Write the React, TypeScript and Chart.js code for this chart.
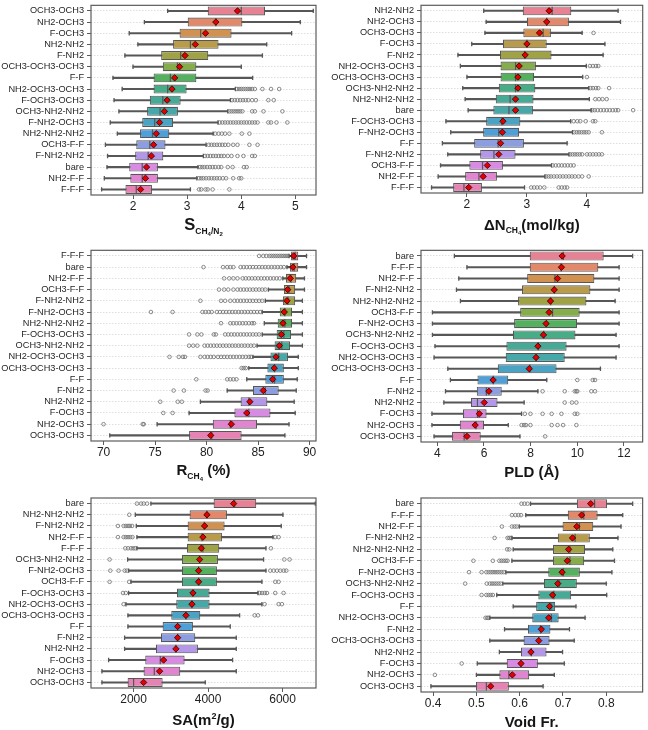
import React, { useEffect, useRef } from 'react';
import { Chart, registerables } from 'chart.js';

Chart.register(...registerables);

const FONT = "'Liberation Sans', Arial, Helvetica, sans-serif";
Chart.defaults.font.family = FONT;

// ---------------- Panel 1: S CH4/N2 ----------------
const sCats = ['OCH3-OCH3', 'NH2-OCH3', 'F-OCH3', 'NH2-NH2', 'F-NH2', 'OCH3-OCH3-OCH3', 'F-F', 'NH2-OCH3-OCH3', 'F-OCH3-OCH3', 'OCH3-NH2-NH2', 'F-NH2-OCH3', 'NH2-NH2-NH2', 'OCH3-F-F', 'F-NH2-NH2', 'bare', 'NH2-F-F', 'F-F-F'];
const sLo = [2.64, 2.21, 1.93, 2.09, 1.85, 2.0, 1.63, 1.8, 1.65, 1.74, 1.58, 1.71, 1.49, 1.53, 1.52, 1.47, 1.42];
const sQ1 = [3.38, 3.01, 2.86, 2.74, 2.52, 2.55, 2.38, 2.38, 2.31, 2.26, 2.17, 2.13, 2.06, 2.04, 1.93, 1.95, 1.86];
const sMed = [4.0, 3.53, 3.25, 3.06, 2.88, 2.82, 2.69, 2.64, 2.55, 2.5, 2.4, 2.36, 2.31, 2.28, 2.17, 2.17, 2.06];
const sQ3 = [4.44, 4.02, 3.82, 3.58, 3.39, 3.17, 3.17, 2.99, 2.88, 2.83, 2.74, 2.67, 2.6, 2.56, 2.46, 2.46, 2.35];
const sHi = [5.33, 5.09, 4.93, 4.47, 4.39, 4.0, 4.21, 3.89, 3.8, 3.75, 3.57, 3.48, 3.35, 3.3, 3.2, 3.18, 3.06];
const sMean = [3.93, 3.53, 3.34, 3.15, 2.96, 2.86, 2.77, 2.72, 2.63, 2.58, 2.49, 2.43, 2.38, 2.34, 2.25, 2.23, 2.14];
const sOut = [
  [], [], [], [], [], [], [],
  [3.92, 3.96, 4.0, 4.04, 4.08, 4.12, 4.16, 4.2, 4.25, 4.39, 4.55, 4.7],
  [3.83, 3.88, 3.93, 3.98, 4.03, 4.08, 4.13, 4.2, 4.27, 4.5, 4.6],
  [3.78, 3.82, 3.86, 3.9, 3.94, 3.98, 4.02, 4.2, 4.25, 4.41, 4.76],
  [3.6, 3.65, 3.7, 3.75, 3.8, 3.85, 3.9, 3.95, 4.0, 4.05, 4.1, 4.15, 4.2, 4.25, 4.3, 4.5, 4.55, 4.65, 4.85],
  [3.52, 3.58, 3.64, 3.7, 3.78, 4.01, 4.15],
  [3.4, 3.45, 3.5, 3.55, 3.6, 3.65, 3.7, 3.76, 3.85, 3.93, 4.15, 4.3],
  [3.33, 3.38, 3.43, 3.48, 3.53, 3.58, 3.63, 3.68, 3.75, 3.82, 3.93, 4.04, 4.2, 4.25],
  [3.24, 3.28, 3.32, 3.37, 3.42, 3.47, 3.52, 3.58, 3.63, 3.75, 3.84, 4.05, 4.1],
  [3.22, 3.26, 3.3, 3.35, 3.4, 3.45, 3.5, 3.55, 3.6, 3.66, 3.72, 3.85, 3.96, 4.0],
  [3.22, 3.26, 3.34, 3.38, 3.47, 3.78],
];
const sTicks = [2, 3, 4, 5];
const sRange = [1.224, 5.38];

// ---------------- Panel 2: ΔN CH4 ----------------
const nCats = ['NH2-NH2', 'NH2-OCH3', 'OCH3-OCH3', 'F-OCH3', 'F-NH2', 'NH2-OCH3-OCH3', 'OCH3-OCH3-OCH3', 'OCH3-NH2-NH2', 'NH2-NH2-NH2', 'bare', 'F-OCH3-OCH3', 'F-NH2-OCH3', 'F-F', 'F-NH2-NH2', 'OCH3-F-F', 'NH2-F-F', 'F-F-F'];
const nLo = [2.28, 2.32, 2.3, 2.08, 1.85, 1.89, 2.0, 1.93, 1.97, 2.02, 1.65, 1.73, 1.59, 1.68, 1.56, 1.52, 1.41];
const nQ1 = [2.93, 3.0, 2.94, 2.6, 2.55, 2.56, 2.56, 2.53, 2.48, 2.44, 2.32, 2.27, 2.12, 2.22, 2.04, 1.97, 1.77];
const nMed = [3.42, 3.33, 3.27, 3.0, 2.96, 2.81, 2.81, 2.81, 2.72, 2.7, 2.58, 2.53, 2.52, 2.45, 2.26, 2.2, 1.95];
const nQ3 = [3.74, 3.7, 3.4, 3.33, 3.41, 3.15, 3.12, 3.14, 3.11, 3.1, 2.89, 2.87, 2.95, 2.81, 2.6, 2.5, 2.25];
const nHi = [4.52, 4.56, 3.92, 4.3, 4.27, 3.99, 3.93, 4.03, 4.04, 4.07, 3.73, 3.76, 3.67, 3.7, 3.41, 3.3, 2.96];
const nMean = [3.37, 3.33, 3.21, 3.0, 2.97, 2.87, 2.85, 2.85, 2.81, 2.81, 2.6, 2.59, 2.56, 2.53, 2.34, 2.27, 2.03];
const nOut = [
  [], [], [4.11], [], [],
  [4.05, 4.1, 4.15, 4.19],
  [4.0],
  [4.06, 4.1, 4.15, 4.19, 4.37],
  [4.14, 4.2, 4.26, 4.33],
  [4.09, 4.13, 4.18, 4.23, 4.28, 4.33, 4.38, 4.43, 4.48, 4.52, 4.77],
  [3.78, 3.84, 3.89, 3.98, 4.1, 4.14],
  [3.79, 3.83, 3.87, 3.91, 3.95, 3.99, 4.03, 4.25],
  [],
  [3.72, 3.76, 3.8, 3.84, 3.88, 3.92, 4.0, 4.05, 4.1, 4.15, 4.2, 4.25],
  [3.43, 3.48, 3.53, 3.58, 3.63, 3.68, 3.73, 3.78],
  [3.32, 3.36, 3.4, 3.45, 3.5, 3.55, 3.6, 3.65, 3.7, 3.75, 3.8, 3.86, 3.92, 4.03],
  [3.07, 3.12, 3.17, 3.22, 3.29, 3.53, 3.58, 3.63, 3.67],
];
const nTicks = [2, 3, 4];
const nRange = [1.234, 4.93];

// ---------------- Panel 3: R CH4 (%) ----------------
const rCats = ['F-F-F', 'bare', 'NH2-F-F', 'OCH3-F-F', 'F-NH2-NH2', 'F-NH2-OCH3', 'NH2-NH2-NH2', 'F-OCH3-OCH3', 'OCH3-NH2-NH2', 'NH2-OCH3-OCH3', 'OCH3-OCH3-OCH3', 'F-F', 'F-NH2', 'NH2-NH2', 'F-OCH3', 'NH2-OCH3', 'OCH3-OCH3'];
const rLo = [88.0, 87.8, 87.4, 86.0, 85.7, 85.4, 85.6, 85.4, 84.9, 84.5, 84.1, 83.9, 82.0, 79.4, 78.3, 75.2, 70.6];
const rQ1 = [88.2, 88.1, 87.7, 87.5, 87.4, 87.1, 86.9, 86.8, 86.6, 86.2, 85.9, 85.7, 84.5, 83.3, 82.7, 80.6, 78.3];
const rMed = [88.6, 88.5, 88.2, 88.0, 87.9, 87.6, 87.6, 87.5, 87.3, 87.0, 86.6, 86.6, 85.7, 84.1, 84.1, 82.3, 80.5];
const rQ3 = [88.9, 88.9, 88.7, 88.6, 88.6, 88.3, 88.3, 88.2, 88.1, 87.9, 87.5, 87.5, 87.0, 85.9, 86.2, 84.9, 83.4];
const rHi = [89.7, 89.7, 89.5, 89.5, 89.3, 89.3, 89.3, 89.3, 89.3, 88.9, 88.9, 88.8, 88.7, 88.5, 88.6, 88.0, 87.6];
const rMean = [88.45, 88.38, 88.12, 87.87, 87.8, 87.54, 87.41, 87.25, 87.06, 86.73, 86.57, 86.41, 85.5, 84.2, 83.9, 82.4, 80.4];
const rOut = [
  [85.1, 85.5, 85.8, 86.1, 86.3, 86.5, 86.7, 86.9, 87.1, 87.3, 87.5, 87.7, 87.9],
  [79.7, 81.6, 82.0, 82.3, 82.6, 83.3, 83.6, 83.9, 84.2, 84.5, 84.8, 85.1, 85.4, 85.7, 86.0, 86.3, 86.6, 86.9, 87.2, 87.5],
  [81.7, 82.2, 82.6, 83.0, 83.5, 83.8, 84.1, 84.4, 84.7, 85.0, 85.3, 85.6, 85.9, 86.2, 86.5, 86.8, 87.1],
  [81.2, 81.7, 82.1, 82.6, 83.0, 83.3, 83.6, 83.9, 84.2, 84.5, 84.8, 85.1, 85.4, 85.7],
  [79.4, 81.4, 81.8, 82.3, 82.7, 83.0, 83.3, 83.6, 83.9, 84.2, 84.5, 84.8, 85.1, 85.4],
  [74.6, 76.7, 79.6, 79.9, 80.2, 80.5, 81.0, 81.3, 81.6, 81.9, 82.2, 82.5, 82.8, 83.1, 83.4, 83.7, 84.0, 84.3, 84.6, 84.9, 85.2],
  [81.4, 82.3, 82.6, 82.9, 83.2, 83.5, 83.8, 84.1, 84.4, 84.6],
  [78.3, 79.1, 79.5, 80.7, 80.9, 81.8, 82.1, 82.4, 82.7, 83.0, 83.3, 83.6, 83.9, 84.2, 84.5, 84.8, 85.1],
  [78.3, 78.7, 79.1, 79.8, 80.1, 80.4, 80.7, 81.0, 81.3, 81.6, 81.9, 82.2, 82.5, 82.8, 83.1, 83.4, 83.7, 84.0, 84.3, 84.6],
  [76.4, 77.3, 77.7, 77.9, 79.4, 79.8, 80.1, 80.4, 80.7, 81.1, 81.4, 81.7, 82.0, 82.3, 82.6, 82.9, 83.2, 83.5, 83.8, 84.1, 84.3],
  [83.4, 83.6, 83.8],
  [79.0, 82.0, 82.3, 82.6, 82.9],
  [76.8, 77.8, 79.9, 80.1],
  [75.5, 77.2, 77.6],
  [75.8, 76.7],
  [70.0, 73.8, 73.9],
  [],
];
const rTicks = [70, 75, 80, 85, 90];
const rRange = [68.78, 90.62];

// ---------------- Panel 4: PLD (Å) ----------------
const pCats = ['bare', 'F-F-F', 'NH2-F-F', 'F-NH2-NH2', 'NH2-NH2-NH2', 'OCH3-F-F', 'F-NH2-OCH3', 'OCH3-NH2-NH2', 'F-OCH3-OCH3', 'NH2-OCH3-OCH3', 'OCH3-OCH3-OCH3', 'F-F', 'F-NH2', 'NH2-NH2', 'F-OCH3', 'NH2-OCH3', 'OCH3-OCH3'];
const pLo = [4.73, 5.27, 4.92, 4.82, 4.99, 3.79, 3.79, 3.79, 3.9, 3.86, 4.45, 4.56, 4.35, 4.28, 3.77, 3.77, 3.86];
const pQ1 = [7.96, 7.96, 7.85, 7.63, 7.46, 7.55, 7.29, 7.24, 6.96, 6.93, 6.59, 5.72, 5.69, 5.44, 5.1, 4.96, 4.63];
const pMed = [9.4, 9.3, 9.04, 9.02, 8.86, 8.94, 8.68, 8.56, 8.33, 8.24, 7.97, 6.4, 6.1, 5.72, 5.72, 5.66, 5.15];
const pQ3 = [11.13, 10.9, 10.73, 10.56, 10.39, 10.1, 9.99, 9.92, 9.54, 9.46, 9.11, 7.04, 6.76, 6.58, 6.11, 6.0, 5.86];
const pHi = [12.37, 11.79, 11.79, 11.79, 11.62, 11.79, 11.79, 11.66, 11.79, 11.66, 10.99, 8.69, 8.31, 7.72, 7.61, 7.04, 7.54];
const pMean = [9.35, 9.32, 9.15, 9.01, 8.85, 8.79, 8.66, 8.55, 8.31, 8.23, 7.94, 6.39, 6.21, 6.01, 5.8, 5.62, 5.27];
const pOut = [
  [], [], [], [], [], [], [], [], [], [], [],
  [10.0, 10.66, 10.76],
  [8.51, 9.46, 9.89, 9.96, 10.0, 10.6, 10.76],
  [9.46, 9.77, 9.96],
  [7.75, 7.99, 8.51, 8.9, 9.32, 9.89, 10.0],
  [7.61, 7.72, 7.8, 7.99, 8.9, 9.15, 9.39, 9.96],
  [8.62],
];
const pTicks = [4, 6, 8, 10, 12];
const pRange = [3.3, 12.8];

// ---------------- Panel 5: SA (m2/g) ----------------
const aCats = ['bare', 'NH2-NH2-NH2', 'F-NH2-NH2', 'NH2-F-F', 'F-F-F', 'OCH3-NH2-NH2', 'F-NH2-OCH3', 'OCH3-F-F', 'F-OCH3-OCH3', 'NH2-OCH3-OCH3', 'OCH3-OCH3-OCH3', 'F-F', 'F-NH2', 'NH2-NH2', 'F-OCH3', 'NH2-OCH3', 'OCH3-OCH3'];
const aLo = [2465, 2045, 2072, 2090, 2090, 1839, 1866, 1930, 1866, 1794, 1848, 1848, 1758, 1758, 1329, 1150, 1150];
const aQ1 = [4148, 3503, 3450, 3450, 3432, 3298, 3298, 3298, 3163, 3145, 3011, 2779, 2734, 2600, 2313, 2268, 1839];
const aMed = [4712, 3969, 3897, 3835, 3861, 3772, 3745, 3745, 3593, 3566, 3405, 3181, 3181, 3136, 2716, 2555, 2000];
const aQ3 = [5293, 4506, 4443, 4372, 4300, 4264, 4237, 4237, 4040, 4040, 3790, 3593, 3656, 3727, 3369, 3253, 2779];
const aHi = [6877, 6009, 5964, 5741, 5553, 5490, 5553, 5445, 5338, 5445, 4846, 4595, 4756, 4756, 4658, 4756, 3924];
const aMean = [4685, 3969, 3906, 3861, 3817, 3772, 3745, 3745, 3593, 3566, 3405, 3181, 3181, 3136, 2805, 2698, 2268];
const aOut = [
  [2090, 2200, 2270, 2360],
  [1884],
  [1579, 1732, 1790, 1850, 1900, 1960],
  [1579, 1732, 1790, 1850, 1910, 1970, 5803, 5893],
  [1776, 1850, 1930, 1990, 2040, 5687],
  [1356, 6045, 6188],
  [1374, 1597, 1760, 1820, 5669, 5760, 5850, 5940, 6030, 6100],
  [1356, 1880, 5803, 5893],
  [1714, 1790, 5383, 5450, 5520, 5580, 5803, 6027],
  [1732, 5517, 5893, 5982],
  [5249, 5338],
  [], [], [], [], [], [],
];
const aTicks = [2000, 4000, 6000];
const aRange = [856, 6897];

// ---------------- Panel 6: Void Fr. ----------------
const vCats = ['bare', 'F-F-F', 'NH2-F-F', 'F-NH2-NH2', 'NH2-NH2-NH2', 'OCH3-F-F', 'F-NH2-OCH3', 'OCH3-NH2-NH2', 'F-OCH3-OCH3', 'F-F', 'NH2-OCH3-OCH3', 'F-NH2', 'OCH3-OCH3-OCH3', 'NH2-NH2', 'F-OCH3', 'NH2-OCH3', 'OCH3-OCH3'];
const vLo = [0.625, 0.614, 0.599, 0.582, 0.585, 0.582, 0.568, 0.561, 0.547, 0.585, 0.531, 0.565, 0.531, 0.553, 0.502, 0.5, 0.395];
const vQ1 = [0.732, 0.711, 0.699, 0.688, 0.677, 0.677, 0.666, 0.656, 0.643, 0.638, 0.629, 0.619, 0.609, 0.603, 0.57, 0.553, 0.499];
const vMed = [0.773, 0.748, 0.738, 0.728, 0.716, 0.716, 0.701, 0.691, 0.679, 0.672, 0.673, 0.648, 0.644, 0.627, 0.603, 0.575, 0.523];
const vQ3 = [0.802, 0.78, 0.77, 0.762, 0.751, 0.749, 0.739, 0.732, 0.719, 0.682, 0.69, 0.671, 0.669, 0.662, 0.642, 0.622, 0.575];
const vHi = [0.861, 0.838, 0.834, 0.827, 0.815, 0.819, 0.813, 0.8, 0.801, 0.73, 0.751, 0.715, 0.726, 0.699, 0.703, 0.68, 0.654];
const vMean = [0.764, 0.743, 0.732, 0.722, 0.713, 0.71, 0.698, 0.688, 0.676, 0.669, 0.667, 0.65, 0.644, 0.626, 0.603, 0.583, 0.533];
const vOut = [
  [0.604, 0.611, 0.618],
  [0.582, 0.59, 0.597, 0.603],
  [0.559, 0.582, 0.588, 0.593],
  [0.542, 0.572, 0.576, 0.58],
  [0.571, 0.576],
  [0.493, 0.538, 0.553, 0.558, 0.563, 0.568, 0.572],
  [0.483, 0.512, 0.523, 0.528, 0.533, 0.538, 0.543, 0.548, 0.553, 0.558, 0.563],
  [0.474, 0.524, 0.531, 0.536, 0.541, 0.546, 0.551, 0.556],
  [0.512, 0.523, 0.528, 0.533, 0.538],
  [],
  [0.521, 0.525, 0.528],
  [], [], [],
  [0.466],
  [0.404],
  [],
];
const vTicks = [0.4, 0.5, 0.6, 0.7, 0.8];
const vRange = [0.372, 0.884];

// ---------------- styles ----------------
const PALETTE = ['#e68294', '#e1896a', '#d19150', '#b99c4b', '#9fa245', '#86ad4c', '#55b060', '#48ad86', '#47aa97', '#46a8a8', '#4aa3c3', '#4f9fd8', '#8c9ee0', '#b497e8', '#d88be3', '#e285d0', '#e584b4'];
const LINE = '#575757';

interface Seg { t: string; size: number; dy?: number }
interface PanelDef {
  cats: string[]; lo: number[]; q1: number[]; med: number[]; q3: number[]; hi: number[]; mean: number[];
  out: number[][]; ticks: number[]; range: number[];
  box: { l: number; t: number; w: number; h: number };
  plot: { l: number; t: number; r: number; b: number };
  title: Seg[]; base: number;
}

const PANELS: PanelDef[] = [
  {
    cats: sCats, lo: sLo, q1: sQ1, med: sMed, q3: sQ3, hi: sHi, mean: sMean, out: sOut, ticks: sTicks, range: sRange,
    box: { l: 0, t: 0, w: 324, h: 245 }, plot: { l: 91, t: 2, r: 316, b: 195 },
    title: [{ t: 'S', size: 16.5 }, { t: 'CH', size: 8.5, dy: 3.5 }, { t: '4', size: 6, dy: 5.5 }, { t: '/N', size: 8.5, dy: 3.5 }, { t: '2', size: 6, dy: 5.5 }],
    base: 230,
  },
  {
    cats: nCats, lo: nLo, q1: nQ1, med: nMed, q3: nQ3, hi: nHi, mean: nMean, out: nOut, ticks: nTicks, range: nRange,
    box: { l: 324, t: 0, w: 324, h: 245 }, plot: { l: 421, t: 2, r: 646, b: 193 },
    title: [{ t: 'ΔN', size: 15 }, { t: 'CH', size: 8.5, dy: 3.5 }, { t: '4', size: 6, dy: 5.5 }, { t: '(mol/kg)', size: 15 }],
    base: 229.5,
  },
  {
    cats: rCats, lo: rLo, q1: rQ1, med: rMed, q3: rQ3, hi: rHi, mean: rMean, out: rOut, ticks: rTicks, range: rRange,
    box: { l: 0, t: 245, w: 324, h: 240 }, plot: { l: 91, t: 249, r: 316, b: 441 },
    title: [{ t: 'R', size: 15 }, { t: 'CH', size: 8.5, dy: 3.5 }, { t: '4', size: 6, dy: 5.5 }, { t: ' (%)', size: 15 }],
    base: 475,
  },
  {
    cats: pCats, lo: pLo, q1: pQ1, med: pMed, q3: pQ3, hi: pHi, mean: pMean, out: pOut, ticks: pTicks, range: pRange,
    box: { l: 324, t: 245, w: 324, h: 240 }, plot: { l: 421, t: 249, r: 646, b: 442 },
    title: [{ t: 'PLD (Å)', size: 15 }],
    base: 477,
  },
  {
    cats: aCats, lo: aLo, q1: aQ1, med: aMed, q3: aQ3, hi: aHi, mean: aMean, out: aOut, ticks: aTicks, range: aRange,
    box: { l: 0, t: 485, w: 324, h: 245 }, plot: { l: 91, t: 498, r: 316, b: 688 },
    title: [{ t: 'SA(m', size: 15 }, { t: '2', size: 9, dy: -6 }, { t: '/g)', size: 15 }],
    base: 725,
  },
  {
    cats: vCats, lo: vLo, q1: vQ1, med: vMed, q3: vQ3, hi: vHi, mean: vMean, out: vOut, ticks: vTicks, range: vRange,
    box: { l: 324, t: 485, w: 324, h: 245 }, plot: { l: 421, t: 498, r: 646, b: 692 },
    title: [{ t: 'Void Fr.', size: 15 }],
    base: 726.5,
  },
];

function makeConfig(p: PanelDef): any {
  const pts = (vals: number[]) => vals.map((v, i) => ({ x: v, y: p.cats[i] }));
  const outPts = p.out.flatMap((arr, i) => arr.map((v) => ({ x: v, y: p.cats[i] })));
  const rowH = (p.plot.b - p.plot.t) / p.cats.length;
  const medR = (rowH * 0.8) / 2 - 0.4;

  const framePlugin = {
    id: 'frameAndTitle',
    afterDraw(chart: any) {
      const { ctx, chartArea } = chart;
      ctx.save();
      ctx.strokeStyle = '#5c5c5c';
      ctx.lineWidth = 1.2;
      ctx.strokeRect(chartArea.left, chartArea.top, chartArea.right - chartArea.left, chartArea.bottom - chartArea.top);
      let total = 0;
      p.title.forEach((s) => {
        ctx.font = `bold ${s.size}px ${FONT}`;
        total += ctx.measureText(s.t).width;
      });
      let x = (chartArea.left + chartArea.right) / 2 - total / 2;
      const base = p.base - p.box.t;
      ctx.fillStyle = '#151515';
      ctx.textBaseline = 'alphabetic';
      ctx.textAlign = 'left';
      p.title.forEach((s) => {
        ctx.font = `bold ${s.size}px ${FONT}`;
        ctx.fillText(s.t, x, base + (s.dy || 0));
        x += ctx.measureText(s.t).width;
      });
      ctx.restore();
    },
  };

  return {
    type: 'bar',
    data: {
      labels: p.cats,
      datasets: [
        {
          type: 'bar', data: p.lo.map((v, i) => [v, p.hi[i]]), backgroundColor: LINE, borderWidth: 0,
          barThickness: 1.4, grouped: false, order: 5,
        },
        {
          type: 'bar', data: p.q1.map((v, i) => [v, p.q3[i]]), backgroundColor: PALETTE, borderColor: LINE,
          borderWidth: 1.1, borderSkipped: false, categoryPercentage: 1, barPercentage: 0.8, grouped: false, order: 3,
        },
        {
          type: 'scatter', data: [...pts(p.lo), ...pts(p.hi)], pointStyle: 'line', pointRotation: 90, pointRadius: 2.2,
          pointBorderColor: LINE, pointBorderWidth: 1.3, order: 4,
        },
        {
          type: 'scatter', data: pts(p.med), pointStyle: 'line', pointRotation: 90, pointRadius: medR,
          pointBorderColor: LINE, pointBorderWidth: 1.2, order: 2,
        },
        {
          type: 'scatter', data: outPts, pointStyle: 'circle', pointRadius: 1.8, pointBorderColor: '#6f6f6f',
          pointBackgroundColor: 'rgba(255,255,255,0)', pointBorderWidth: 0.8, order: 6,
        },
        {
          type: 'scatter', data: pts(p.mean), pointStyle: 'rectRot', pointRadius: 3.2, pointBackgroundColor: '#e30000',
          pointBorderColor: '#2a0000', pointBorderWidth: 0.8, order: 1,
        },
      ],
    },
    options: {
      indexAxis: 'y',
      responsive: false,
      animation: false,
      devicePixelRatio: 1,
      events: [],
      layout: { padding: { left: 0, top: p.plot.t - p.box.t, right: p.box.l + p.box.w - p.plot.r, bottom: 0 } },
      plugins: { legend: { display: false }, tooltip: { enabled: false }, title: { display: false } },
      scales: {
        x: {
          type: 'linear', min: p.range[0], max: p.range[1],
          afterBuildTicks: (ax: any) => { ax.ticks = p.ticks.map((v) => ({ value: v })); },
          afterFit: (ax: any) => { ax.height = p.box.t + p.box.h - p.plot.b; ax.paddingLeft = 0; ax.paddingRight = 0; },
          ticks: { font: { size: 12, family: FONT }, color: '#222', padding: 0, maxRotation: 0, autoSkip: false, callback: (v: any) => String(v) },
          grid: { drawOnChartArea: false, drawTicks: true, tickLength: 4, tickColor: '#5c5c5c', tickWidth: 1 },
          border: { display: false },
        },
        y: {
          type: 'category', offset: true,
          afterFit: (ax: any) => { ax.width = p.plot.l - p.box.l; ax.paddingTop = 0; ax.paddingBottom = 0; },
          ticks: { font: { size: 9.2, family: FONT }, color: '#262626', padding: 3, autoSkip: false },
          grid: { offset: false, color: '#d6d6d6', lineWidth: 0.8, drawTicks: true, tickLength: 4, tickColor: '#5c5c5c', tickWidth: 1, borderDash: [1.5, 1.5], tickBorderDash: [] },
          border: { display: false, dash: [1.5, 1.5] },
        },
      },
    },
    plugins: [framePlugin],
  };
}

function Panel({ p }: { p: PanelDef }) {
  const ref = useRef<HTMLCanvasElement>(null);
  useEffect(() => {
    if (!ref.current) return;
    const chart = new Chart(ref.current, makeConfig(p));
    return () => chart.destroy();
  }, [p]);
  return (
    <canvas
      ref={ref}
      width={p.box.w}
      height={p.box.h}
      style={{ position: 'absolute', left: p.box.l, top: p.box.t, width: p.box.w, height: p.box.h }}
    />
  );
}

export default function App() {
  return (
    <div style={{ position: 'absolute', left: 0, top: 0, width: 648, height: 730, background: '#ffffff' }}>
      {PANELS.map((p, i) => (
        <Panel key={i} p={p} />
      ))}
    </div>
  );
}
